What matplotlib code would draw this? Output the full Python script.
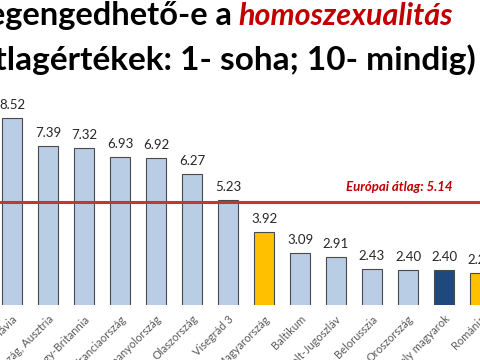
import matplotlib.pyplot as plt

plt.rcParams['font.family'] = ['Lato', 'DejaVu Sans']

countries = ["Skandinávia", "Németország, Ausztria", "Nagy-Britannia", "Franciaország",
             "Spanyolország", "Olaszország", "Visegrád 3", "Magyarország", "Baltikum",
             "Volt-Jugoszláv", "Belorusszia", "Oroszország", "Székely magyarok", "Románia"]
values = [8.52, 7.39, 7.32, 6.93, 6.92, 6.27, 5.23, 3.92, 3.09, 2.91, 2.43, 2.40, 2.40, 2.27]
value_labels = ["8.52", "7.39", "7.32", "6.93", "6.92", "6.27", "5.23", "3.92", "3.09",
                "2.91", "2.43", "2.40", "2.40", "2.27"]
kinds = ["eu", "eu", "eu", "eu", "eu", "eu", "eu", "hu", "eu", "eu", "eu", "eu", "hm", "hu"]
euro_avg = 5.14

colors = {"eu": "#B9CDE5", "hu": "#FFC000", "hm": "#1F497D"}

fig = plt.figure(figsize=(4.8, 3.6), dpi=100)
# axes reach past the edges, the reference is a crop of a wider slide
ax = fig.add_axes([0, 55 / 360, 1, 305 / 360])
ax.patch.set_alpha(0)

x = list(range(len(countries)))
bars = ax.bar(x, values, width=0.56, bottom=0,
              color=[colors[k] for k in kinds], edgecolor="#4a4a4a", linewidth=0.8, zorder=2)

for xi, v, lab in zip(x, values, value_labels):
    ax.annotate(lab, (xi, v), xytext=(0, 5), textcoords="offset points",
                ha="center", va="bottom", fontsize=9.5, color="#262626")

ax.axhline(euro_avg, color="#C0392B", linewidth=2.2, zorder=3)
ax.annotate("Európai átlag: 5.14", (12.25, euro_avg), xytext=(0, 8), textcoords="offset points",
            ha="right", va="baseline", fontsize=9.5, color="#C00000",
            fontweight="bold", fontstyle="italic")

ax.set_xlim(-12 / 36, 468 / 36)
ax.set_ylim(1, 1 + 305 / 24.9)
ax.set_xticks(x)
ax.set_xticklabels(countries, rotation=45, ha="right", rotation_mode="anchor",
                   fontsize=8, color="#595959")
ax.tick_params(axis="x", length=0, pad=6)
ax.set_yticks([])
for s in ax.spines.values():
    s.set_visible(False)

fig.text(232 / 480, 1 - 25 / 360, "Megengedhető-e a", ha="right", va="baseline",
         fontsize=23.5, fontweight="bold", color="black")
fig.text(238 / 480, 1 - 25 / 360, "homoszexualitás", ha="left", va="baseline",
         fontsize=22, fontweight="bold", fontstyle="italic", color="#C00000")
fig.text(476 / 480, 1 - 70 / 360, "(átlagértékek: 1- soha; 10- mindig)", ha="right",
         va="baseline", fontsize=24, fontweight="bold", color="black")

fig.savefig("out.png", dpi=100)
